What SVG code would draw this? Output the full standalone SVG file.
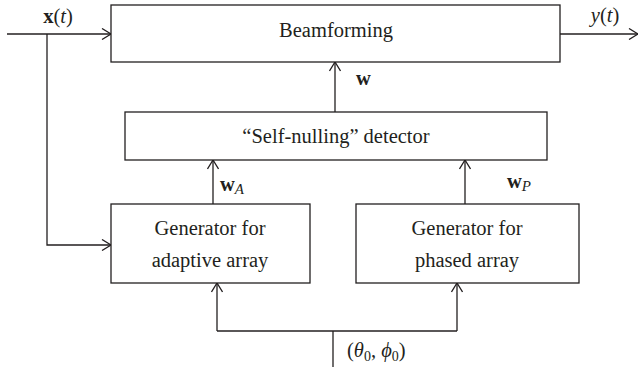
<svg xmlns="http://www.w3.org/2000/svg" width="640" height="372" viewBox="0 0 640 372">
<style>
.box{fill:#fff;stroke:#231f20;stroke-width:1.3}
.ln{fill:none;stroke:#231f20;stroke-width:1.3}
text{font-family:"Liberation Serif","Times New Roman",serif;fill:#231f20;font-size:20.5px}
.c{text-anchor:middle}
.b{font-weight:bold}
.i{font-style:italic}
</style>
<defs>
<marker id="ah" viewBox="0 0 10 12" refX="10" refY="6" markerWidth="10" markerHeight="12" markerUnits="userSpaceOnUse" orient="auto">
<polyline points="1,0.5 10,6 1,11.5" fill="none" stroke="#231f20" stroke-width="1.3"/>
</marker>
</defs>
<rect width="640" height="372" fill="#fff"/>
<g id="connectors">
<line class="ln" x1="7" y1="34" x2="111" y2="34" marker-end="url(#ah)"/>
<polyline class="ln" points="47,34 47,245 111,245" marker-end="url(#ah)"/>
<line class="ln" x1="560" y1="34" x2="638" y2="34" marker-end="url(#ah)"/>
<line class="ln" x1="335" y1="112" x2="335" y2="62" marker-end="url(#ah)"/>
<line class="ln" x1="213" y1="204" x2="213" y2="160" marker-end="url(#ah)"/>
<line class="ln" x1="465" y1="204" x2="465" y2="160" marker-end="url(#ah)"/>
<line class="ln" x1="333" y1="367" x2="333" y2="331"/>
<polyline class="ln" points="217,331 457,331"/>
<line class="ln" x1="217" y1="331" x2="217" y2="283" marker-end="url(#ah)"/>
<line class="ln" x1="457" y1="331" x2="457" y2="283" marker-end="url(#ah)"/>
<text x="58" y="23" class="c"><tspan class="b">x</tspan>(<tspan class="i">t</tspan>)</text>
<text x="605" y="22" class="c"><tspan class="i">y</tspan>(<tspan class="i">t</tspan>)</text>
<text x="356" y="85" class="b">w</text>
<text x="220" y="191"><tspan class="b">w</tspan><tspan class="i" font-size="15" dy="3">A</tspan></text>
<text x="507" y="188"><tspan class="b">w</tspan><tspan class="i" font-size="15" dy="3">P</tspan></text>
<text x="347" y="357">(<tspan class="i">θ</tspan><tspan font-size="14" dy="4">0</tspan><tspan dy="-4">, </tspan><tspan class="i">ϕ</tspan><tspan font-size="14" dy="4">0</tspan><tspan dy="-4">)</tspan></text>
</g>
<g id="beamforming">
<rect class="box" x="111" y="5" width="449" height="57"/>
<text x="336" y="37" class="c">Beamforming</text>
</g>
<g id="detector">
<rect class="box" x="125" y="112" width="422" height="48"/>
<text x="336" y="143" class="c">“Self-nulling” detector</text>
</g>
<g id="gen-adaptive">
<rect class="box" x="111" y="204" width="199" height="79"/>
<text x="210" y="235" class="c">Generator for</text>
<text x="210" y="267" class="c">adaptive array</text>
</g>
<g id="gen-phased">
<rect class="box" x="356" y="204" width="223" height="79"/>
<text x="467" y="235" class="c">Generator for</text>
<text x="467" y="267" class="c">phased array</text>
</g>
</svg>
